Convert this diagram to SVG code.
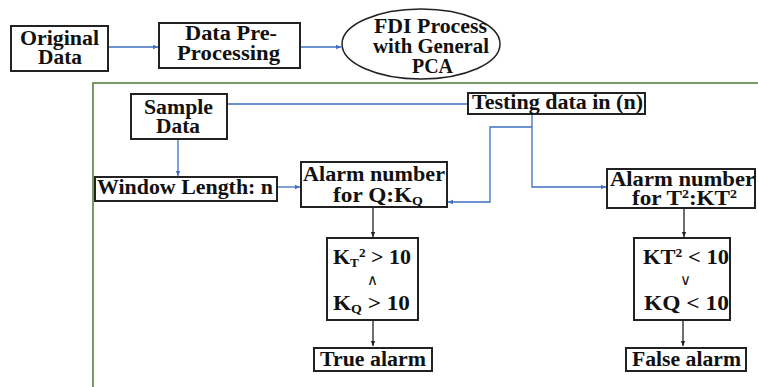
<svg xmlns="http://www.w3.org/2000/svg" width="758" height="387" viewBox="0 0 758 387" font-family="'Liberation Serif', 'Times New Roman', serif">
<style>
text{font-family:'Liberation Serif','Times New Roman',serif;font-weight:bold;font-size:20px;fill:#111;text-anchor:middle}
.box{fill:#fff;stroke:#222;stroke-width:2}
.blue{fill:none;stroke:#3f6fc0;stroke-width:1.3}
.blk{fill:none;stroke:#222;stroke-width:1.3}
.sub{font-size:12px}
.sym{font-weight:normal;font-size:15px}
</style>
<defs>
<marker id="ab" markerWidth="6" markerHeight="6" refX="5" refY="3" orient="auto" markerUnits="userSpaceOnUse"><path d="M0,0.8 L5,3 L0,5.2 Z" fill="#3f6fc0"/></marker>
<marker id="ak" markerWidth="6" markerHeight="6" refX="5" refY="3" orient="auto" markerUnits="userSpaceOnUse"><path d="M0,0.8 L5,3 L0,5.2 Z" fill="#222"/></marker>
</defs>
<path d="M93,387 V83 H758" fill="none" stroke="#4e7a2f" stroke-width="1.5"/>
<g id="connectors">
<path class="blue" d="M108,47 H158" marker-end="url(#ab)"/>
<path class="blue" d="M300,47 H341" marker-end="url(#ab)"/>
<path class="blue" d="M227,104 H468"/>
<path class="blue" d="M178,139 V176" marker-end="url(#ab)"/>
<path class="blue" d="M277,187 H300" marker-end="url(#ab)"/>
<path class="blue" d="M532,113 V187 H606" marker-end="url(#ab)"/>
<path class="blue" d="M532,127 H490 V202 H448" marker-end="url(#ab)"/>
<path class="blk" d="M373,207 V237" marker-end="url(#ak)"/>
<path class="blk" d="M373,320 V346" marker-end="url(#ak)"/>
<path class="blk" d="M684,208 V237" marker-end="url(#ak)"/>
<path class="blk" d="M683,320 V346" marker-end="url(#ak)"/>
</g>
<g id="original-data">
<rect class="box" x="11" y="26" width="97" height="45"/>
<text x="59.5" y="45" textLength="79" lengthAdjust="spacingAndGlyphs">Original</text>
<text x="60" y="64" textLength="44" lengthAdjust="spacingAndGlyphs">Data</text>
</g>
<g id="pre-processing">
<rect class="box" x="159" y="23" width="141" height="45"/>
<text x="231" y="40" textLength="92" lengthAdjust="spacingAndGlyphs">Data Pre-</text>
<text x="228.5" y="60" textLength="103" lengthAdjust="spacingAndGlyphs">Processing</text>
</g>
<g id="fdi-process">
<ellipse cx="421" cy="44" rx="79" ry="35" fill="#fff" stroke="#222" stroke-width="1.5"/>
<text x="430.5" y="33" textLength="113" lengthAdjust="spacingAndGlyphs">FDI Process</text>
<text x="431" y="53" textLength="116" lengthAdjust="spacingAndGlyphs">with General</text>
<text x="432.5" y="73" textLength="41" lengthAdjust="spacingAndGlyphs">PCA</text>
</g>
<g id="sample-data">
<rect class="box" x="131" y="94" width="96" height="45"/>
<text x="178.5" y="114" textLength="69" lengthAdjust="spacingAndGlyphs">Sample</text>
<text x="178" y="133" textLength="44" lengthAdjust="spacingAndGlyphs">Data</text>
</g>
<g id="window-length">
<rect class="box" x="95" y="177" width="182" height="24"/>
<text x="185" y="194" textLength="176" lengthAdjust="spacingAndGlyphs">Window Length: n</text>
</g>
<g id="testing-data">
<rect class="box" x="468" y="93" width="177" height="21"/>
<text x="557.5" y="109" textLength="171" lengthAdjust="spacingAndGlyphs">Testing data in (n)</text>
</g>
<g id="alarm-q">
<rect class="box" x="301" y="162" width="146" height="45"/>
<text x="374" y="181" textLength="142" lengthAdjust="spacingAndGlyphs">Alarm number</text>
<text x="378" y="202" textLength="90" lengthAdjust="spacingAndGlyphs">for Q:K<tspan class="sub" dy="3">Q</tspan></text>
</g>
<g id="alarm-t2">
<rect class="box" x="607" y="169" width="148" height="39"/>
<text x="682.5" y="186" textLength="145" lengthAdjust="spacingAndGlyphs">Alarm number</text>
<text x="684.5" y="205" textLength="105" lengthAdjust="spacingAndGlyphs">for T<tspan class="sub" dy="-7">2</tspan><tspan dy="7">:KT</tspan><tspan class="sub" dy="-7">2</tspan></text>
</g>
<g id="cond-true">
<rect class="box" x="327" y="238" width="91" height="82"/>
<text x="372" y="264" textLength="78" lengthAdjust="spacingAndGlyphs">K<tspan class="sub" dy="3">T</tspan><tspan class="sub" dy="-10">2</tspan><tspan dy="7"> &gt; 10</tspan></text>
<text class="sym" x="372.5" y="285">∧</text>
<text x="371.5" y="310" textLength="77" lengthAdjust="spacingAndGlyphs">K<tspan class="sub" dy="3">Q</tspan><tspan dy="-3"> &gt; 10</tspan></text>
</g>
<g id="cond-false">
<rect class="box" x="634" y="238" width="96" height="82"/>
<text x="686" y="264" textLength="86" lengthAdjust="spacingAndGlyphs">KT<tspan class="sub" dy="-7">2</tspan><tspan dy="7"> &lt; 10</tspan></text>
<text class="sym" x="685" y="285">∨</text>
<text x="686.5" y="310" textLength="85" lengthAdjust="spacingAndGlyphs">KQ &lt; 10</text>
</g>
<g id="true-alarm">
<rect class="box" x="314" y="348" width="118" height="23"/>
<text x="373" y="366" textLength="106" lengthAdjust="spacingAndGlyphs">True alarm</text>
</g>
<g id="false-alarm">
<rect class="box" x="626" y="348" width="120" height="23"/>
<text x="686.5" y="366" textLength="109" lengthAdjust="spacingAndGlyphs">False alarm</text>
</g>
</svg>
